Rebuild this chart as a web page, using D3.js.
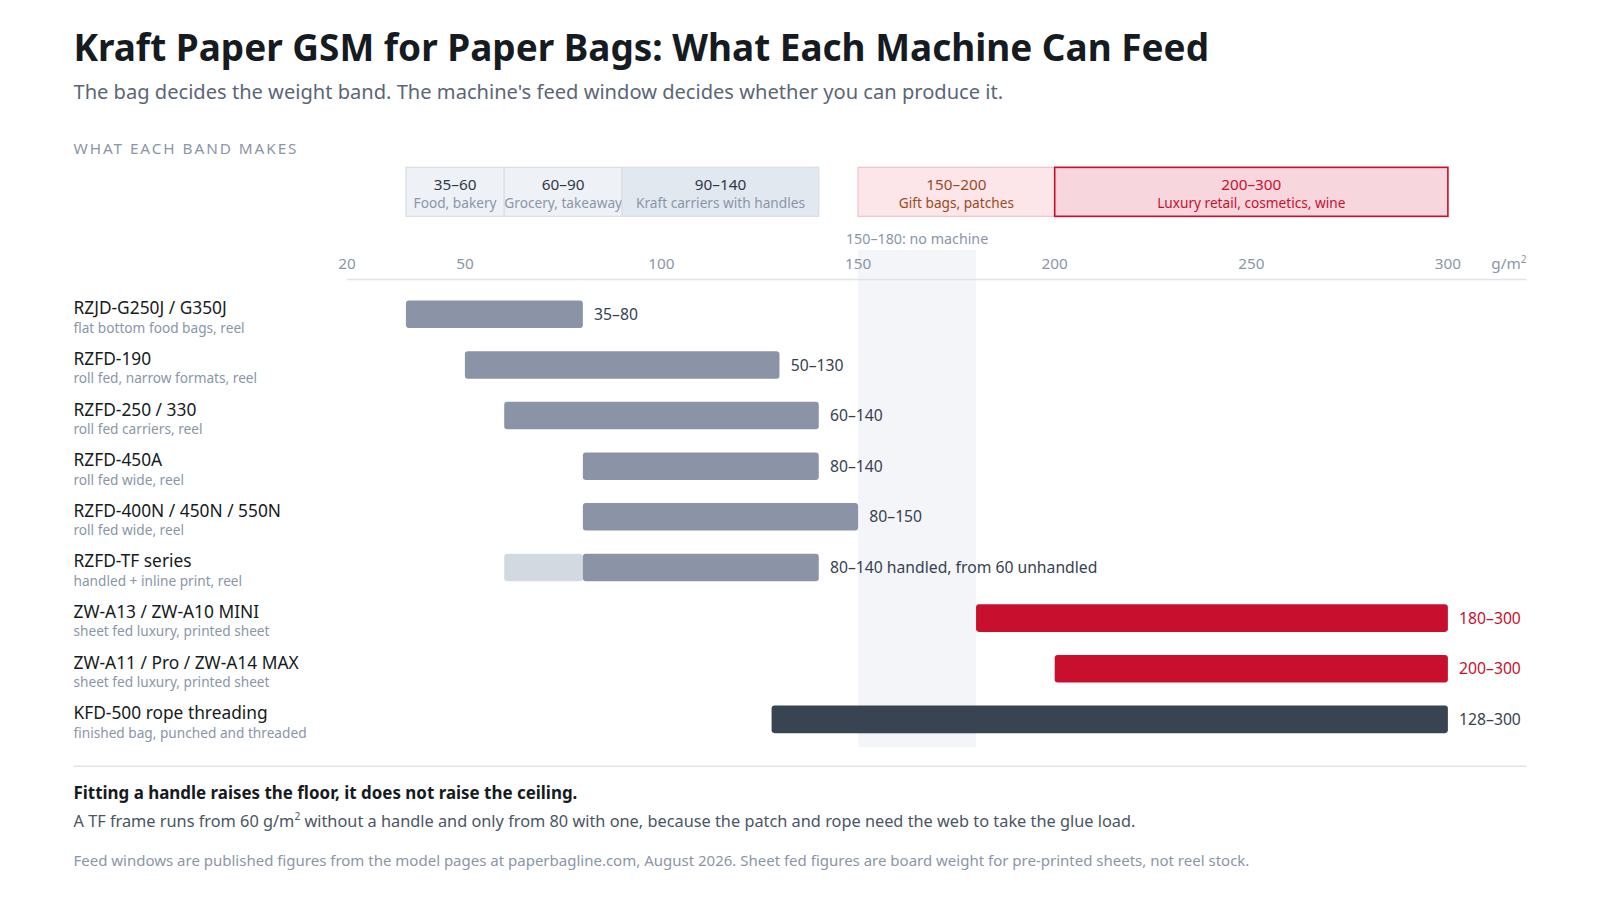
<!DOCTYPE html>
<html><head><meta charset="utf-8">
<script src="https://cdn.jsdelivr.net/npm/d3@7/dist/d3.min.js"></script>
<style>
html,body{margin:0;padding:0;background:#fff;}
svg{display:block;font-family:"Segoe UI","Noto Sans","Open Sans",sans-serif;}
</style></head>
<body><svg id="c" width="1600" height="900"></svg>
<script>
const machines = ["RZJD-G250J / G350J","RZFD-190","RZFD-250 / 330","RZFD-450A","RZFD-400N / 450N / 550N","RZFD-TF series","ZW-A13 / ZW-A10 MINI","ZW-A11 / Pro / ZW-A14 MAX","KFD-500 rope threading"];
const machineNotes = ["flat bottom food bags, reel","roll fed, narrow formats, reel","roll fed carriers, reel","roll fed wide, reel","roll fed wide, reel","handled + inline print, reel","sheet fed luxury, printed sheet","sheet fed luxury, printed sheet","finished bag, punched and threaded"];
const feedMin = [35,50,60,80,80,80,180,200,128];
const feedMax = [80,130,140,140,150,140,300,300,300];
const unhandledMin = [null,null,null,null,null,60,null,null,null];
const machineKind = ["reel","reel","reel","reel","reel","reel","sheet","sheet","rope"];
const valueLabels = ["35–80","50–130","60–140","80–140","80–150","80–140 handled, from 60 unhandled","180–300","200–300","128–300"];

const bandFrom = [35,60,90,150,200];
const bandTo = [60,90,140,200,300];
const bandNames = ["35–60","60–90","90–140","150–200","200–300"];
const bandUses = ["Food, bakery","Grocery, takeaway","Kraft carriers with handles","Gift bags, patches","Luxury retail, cosmetics, wine"];
const bandKind = ["light","light","mid","pink","red"];

const gapFrom = 150, gapTo = 180;
const xTicks = [20,50,100,150,200,250,300];

const S = 1600/1568;
const svg = d3.select("#c").append("g").attr("transform",`scale(${S})`);
const x = d3.scaleLinear().domain([20,320]).range([340,1496]);
const y = d3.scalePoint().domain(d3.range(machines.length)).range([308,705]);
const barH = 27;

// title
svg.append("text").attr("x",72).attr("y",60).attr("font-size",36.2).attr("font-weight",700).attr("fill","#161b22")
  .text("Kraft Paper GSM for Paper Bags: What Each Machine Can Feed");
svg.append("text").attr("x",72).attr("y",97).attr("font-size",19.7).attr("fill","#5b6677")
  .text("The bag decides the weight band. The machine's feed window decides whether you can produce it.");
svg.append("text").attr("x",72).attr("y",151).attr("font-size",15).attr("letter-spacing",1.9).attr("fill","#8a96a8")
  .text("WHAT EACH BAND MAKES");

// band boxes
const bandStyle = {
  light:{fill:"#eef1f6",stroke:"#d9dee7",sw:1.2,t1:"#2f3744",t2:"#8a96a8"},
  mid:{fill:"#e2e8f0",stroke:"#d9dee7",sw:1.2,t1:"#2f3744",t2:"#8a96a8"},
  pink:{fill:"#fde6ea",stroke:"#f0c4cc",sw:1.2,t1:"#9a4a1c",t2:"#9a4a1c"},
  red:{fill:"#f8d6dd",stroke:"#c8102e",sw:1.6,t1:"#c8102e",t2:"#c8102e"}
};
const bands = svg.append("g").selectAll("g").data(bandFrom.map((d,i)=>i)).join("g");
bands.append("rect").attr("x",i=>x(bandFrom[i])).attr("y",164).attr("width",i=>x(bandTo[i])-x(bandFrom[i])).attr("height",48)
  .attr("fill",i=>bandStyle[bandKind[i]].fill).attr("stroke",i=>bandStyle[bandKind[i]].stroke).attr("stroke-width",i=>bandStyle[bandKind[i]].sw);
bands.append("text").attr("x",i=>(x(bandFrom[i])+x(bandTo[i]))/2).attr("y",186).attr("text-anchor","middle").attr("font-size",15)
  .attr("fill",i=>bandStyle[bandKind[i]].t1).text(i=>bandNames[i]);
bands.append("text").attr("x",i=>(x(bandFrom[i])+x(bandTo[i]))/2).attr("y",204).attr("text-anchor","middle").attr("font-size",13.4)
  .attr("fill",i=>bandStyle[bandKind[i]].t2).text(i=>bandUses[i]);

// gap shading
svg.append("rect").attr("x",x(gapFrom)).attr("y",245).attr("width",x(gapTo)-x(gapFrom)).attr("height",487).attr("fill","#f3f5f8");
svg.append("text").attr("x",(x(gapFrom)+x(gapTo))/2).attr("y",239).attr("text-anchor","middle").attr("font-size",14).attr("fill","#8a96a8")
  .text(`${gapFrom}–${gapTo}: no machine`);

// axis
svg.append("line").attr("x1",340).attr("x2",1496).attr("y1",274).attr("y2",274).attr("stroke","#dfe3ea").attr("stroke-width",1.5);
svg.append("g").selectAll("text").data(xTicks).join("text").attr("x",d=>x(d)).attr("y",264).attr("text-anchor","middle")
  .attr("font-size",15).attr("fill","#8a96a8").text(d=>d);
const u = svg.append("text").attr("x",1496).attr("y",264).attr("text-anchor","end").attr("font-size",15).attr("fill","#8a96a8");
u.append("tspan").text("g/m");
u.append("tspan").attr("dy",-6).attr("font-size",10).text("2");

// rows
const rows = svg.append("g").selectAll("g").data(machines.map((d,i)=>i)).join("g");
rows.append("text").attr("x",72).attr("y",i=>y(i)).attr("font-size",17).attr("fill","#161b22").text(i=>machines[i]);
rows.append("text").attr("x",72).attr("y",i=>y(i)+18).attr("font-size",13.4).attr("fill","#8a96a8").text(i=>machineNotes[i]);
const barColor = {reel:"#8a94a6",sheet:"#c8102e",rope:"#394452"};
rows.filter(i=>unhandledMin[i]!=null).append("rect")
  .attr("x",i=>x(unhandledMin[i])).attr("width",i=>x(feedMin[i])-x(unhandledMin[i]))
  .attr("y",i=>y(i)-barH/2).attr("height",barH).attr("rx",3).attr("fill","#d3d9e1");
rows.append("rect").attr("x",i=>x(feedMin[i])).attr("width",i=>x(feedMax[i])-x(feedMin[i]))
  .attr("y",i=>y(i)-barH/2).attr("height",barH).attr("rx",3).attr("fill",i=>barColor[machineKind[i]]);
rows.append("text").attr("x",i=>x(feedMax[i])+11).attr("y",i=>y(i)+5.5).attr("font-size",15.4)
  .attr("fill",i=>machineKind[i]==="sheet"?"#c8102e":"#374151").text(i=>valueLabels[i]);

// footer
svg.append("line").attr("x1",72).attr("x2",1496).attr("y1",751).attr("y2",751).attr("stroke","#dfe3ea").attr("stroke-width",1.5);
svg.append("text").attr("x",72).attr("y",783).attr("font-size",16.6).attr("font-weight",700).attr("fill","#161b22")
  .text("Fitting a handle raises the floor, it does not raise the ceiling.");
const n = svg.append("text").attr("x",72).attr("y",810).attr("font-size",16).attr("fill","#4a5563");
n.append("tspan").text("A TF frame runs from 60 g/m");
n.append("tspan").attr("dy",-6).attr("font-size",10).text("2");
n.append("tspan").attr("dy",6).text(" without a handle and only from 80 with one, because the patch and rope need the web to take the glue load.");
svg.append("text").attr("x",72).attr("y",849).attr("font-size",14.7).attr("fill","#8a96a8")
  .text("Feed windows are published figures from the model pages at paperbagline.com, August 2026. Sheet fed figures are board weight for pre-printed sheets, not reel stock.");
</script></body></html>
